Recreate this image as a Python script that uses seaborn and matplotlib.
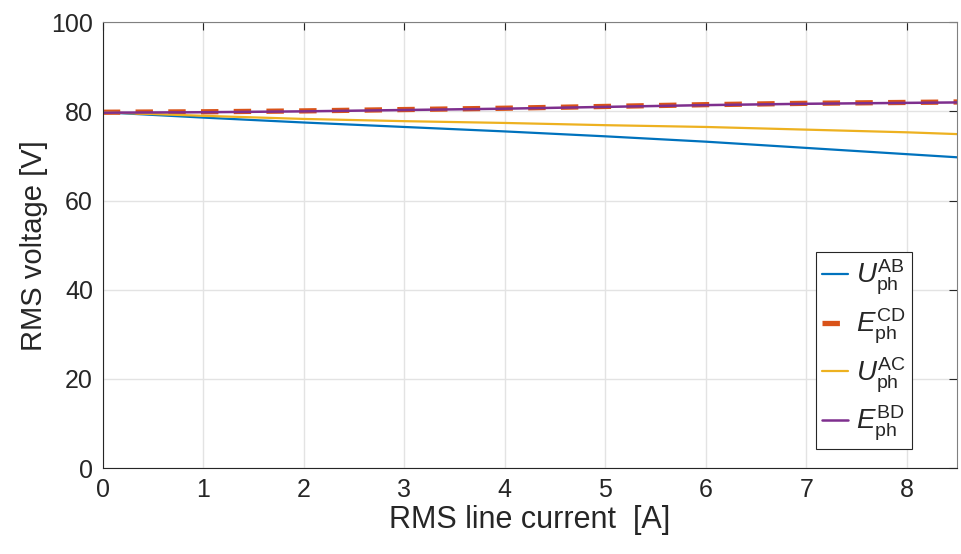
import matplotlib
matplotlib.use("Agg")
import matplotlib.pyplot as plt
import seaborn as sns
import pandas as pd

# RMS line current [A]
current = [0, 1, 2, 3, 4, 5, 6, 7, 8, 8.5]

# RMS phase voltages [V]
u_ab = [79.8, 78.6, 77.5, 76.5, 75.5, 74.4, 73.2, 71.8, 70.4, 69.7]
e_cd = [79.8, 79.9, 80.1, 80.4, 80.7, 81.1, 81.5, 81.8, 82.0, 82.1]
u_ac = [79.8, 79.0, 78.3, 77.8, 77.4, 76.9, 76.5, 75.9, 75.3, 74.9]
e_bd = [79.7, 79.8, 80.0, 80.3, 80.6, 81.0, 81.4, 81.7, 81.9, 82.0]

labels = [r"$U^{\mathrm{AB}}_{\mathrm{ph}}$",
          r"$E^{\mathrm{CD}}_{\mathrm{ph}}$",
          r"$U^{\mathrm{AC}}_{\mathrm{ph}}$",
          r"$E^{\mathrm{BD}}_{\mathrm{ph}}$"]

x_ticks = [0, 1, 2, 3, 4, 5, 6, 7, 8]
y_ticks = [0, 20, 40, 60, 80, 100]

sns.set_theme(style="white")
plt.rcParams["font.family"] = ["Liberation Sans", "DejaVu Sans"]
plt.rcParams["mathtext.fontset"] = "custom"
plt.rcParams["mathtext.rm"] = "Liberation Sans"
plt.rcParams["mathtext.it"] = "Liberation Sans:italic"

df = pd.DataFrame({"I": current, "uab": u_ab, "ecd": e_cd, "uac": u_ac, "ebd": e_bd})

fig = plt.figure(figsize=(9.61, 5.54), dpi=100)
ax = fig.add_axes([0.107, 0.155, 0.889, 0.805])

sns.lineplot(data=df, x="I", y="uab", ax=ax, color="#0072BD", lw=1.6, label=labels[0])
sns.lineplot(data=df, x="I", y="ecd", ax=ax, color="#D95319", lw=3.8,
             dashes=False, label=labels[1])
ax.lines[-1].set_dashes((3.3, 2.9))
sns.lineplot(data=df, x="I", y="uac", ax=ax, color="#EDB120", lw=1.6, label=labels[2])
sns.lineplot(data=df, x="I", y="ebd", ax=ax, color="#7E2F8E", lw=1.8, label=labels[3])

ax.set_xlim(0, 8.5)
ax.set_ylim(0, 100)
ax.set_xticks(x_ticks)
ax.set_yticks(y_ticks)
ax.grid(True, color="#e3e3e3", lw=1.0)
ax.set_axisbelow(True)

for side in ["left", "bottom", "top", "right"]:
    ax.spines[side].set_visible(True)
    ax.spines[side].set_color("#262626" if side in ("left", "bottom") else "#808080")
    ax.spines[side].set_linewidth(0.8)

ax.tick_params(axis="both", which="both", direction="in", length=6, width=0.8,
               top=True, right=True, labelsize=18, colors="#262626", pad=7)

ax.set_xlabel("RMS line current  [A]", fontsize=22, color="#262626", labelpad=2)
ax.set_ylabel("RMS voltage [V]", fontsize=21, color="#262626", labelpad=2)

leg = ax.legend(loc="lower right", bbox_to_anchor=(0.947, 0.043), borderaxespad=0,
                fontsize=20, handlelength=0.95, handletextpad=0.3,
                labelspacing=0.35, borderpad=0.2, frameon=True, fancybox=False,
                framealpha=1.0, edgecolor="#262626")
leg.get_frame().set_linewidth(0.8)

fig.savefig("out.png", dpi=100)
